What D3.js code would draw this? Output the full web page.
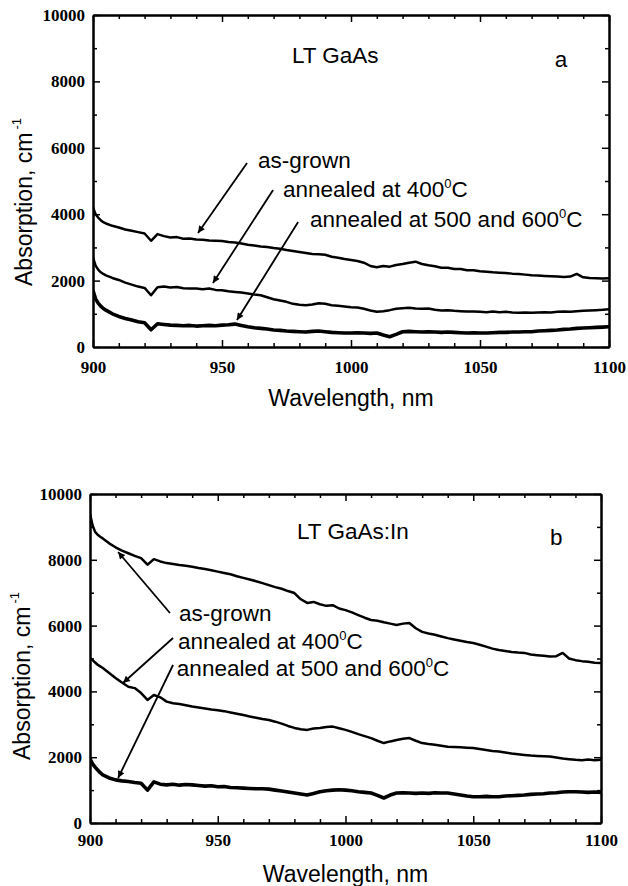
<!DOCTYPE html>
<html>
<head>
<meta charset="utf-8">
<script src="https://cdn.jsdelivr.net/npm/d3@7"></script>
<style>
  body { margin: 0; background: #fff; }
  svg { display: block; }
  .lbl { font-family: "Liberation Sans", Arial, sans-serif; font-size: 22.5px; fill: #000; }
  .ttl { font-family: "Liberation Sans", Arial, sans-serif; font-size: 23px; fill: #000; }
</style>
</head>
<body>
<div id="chart"></div>
<script>
// Sampled wavelengths (nm), shared by all curves
const wavelength = [900, 901, 902, 903, 904,
  905, 907.5, 910, 912.5, 915, 917.5, 920, 922.5, 925, 927.5,
  930, 932.5, 935, 937.5, 940, 942.5, 945, 947.5, 950, 952.5,
  955, 957.5, 960, 962.5, 965, 967.5, 970, 972.5, 975, 977.5,
  980, 982.5, 985, 987.5, 990, 992.5, 995, 997.5, 1000, 1002.5,
  1005, 1007.5, 1010, 1012.5, 1015, 1017.5, 1020, 1022.5, 1025, 1027.5,
  1030, 1032.5, 1035, 1037.5, 1040, 1042.5, 1045, 1047.5, 1050, 1052.5,
  1055, 1057.5, 1060, 1062.5, 1065, 1067.5, 1070, 1072.5, 1075, 1077.5,
  1080, 1082.5, 1085, 1087.5, 1090, 1092.5, 1095, 1097.5, 1100];

// Panel a: LT GaAs (absorption, cm^-1)
const gaAsGrown = [4200, 4000, 3900, 3820, 3760,
  3720, 3650, 3600, 3540, 3500, 3460, 3420, 3200, 3400, 3340,
  3300, 3310, 3260, 3270, 3240, 3230, 3210, 3200, 3190, 3160,
  3150, 3120, 3080, 3060, 3030, 3010, 2980, 2960, 2920, 2890,
  2860, 2830, 2800, 2790, 2780, 2720, 2690, 2650, 2620, 2590,
  2540, 2440, 2400, 2440, 2420, 2470, 2500, 2540, 2570, 2500,
  2460, 2430, 2390, 2390, 2350, 2350, 2310, 2310, 2280, 2270,
  2250, 2240, 2230, 2210, 2200, 2180, 2160, 2150, 2140, 2130,
  2120, 2110, 2120, 2200, 2100, 2080, 2070, 2060, 2070];
const gaAnn400 = [2700, 2450, 2330, 2250, 2200,
  2160, 2080, 2020, 1940, 1880, 1820, 1780, 1560, 1800, 1820,
  1790, 1810, 1770, 1760, 1760, 1740, 1760, 1720, 1710, 1680,
  1660, 1640, 1610, 1580, 1560, 1500, 1440, 1400, 1360, 1300,
  1270, 1260, 1280, 1320, 1300, 1260, 1240, 1220, 1200, 1190,
  1150, 1100, 1060, 1080, 1110, 1150, 1170, 1180, 1160, 1150,
  1160, 1120, 1100, 1110, 1090, 1080, 1070, 1070, 1060, 1050,
  1070, 1050, 1060, 1040, 1030, 1040, 1030, 1040, 1050, 1040,
  1060, 1070, 1060, 1080, 1090, 1100, 1110, 1120, 1140];
const gaAnn500600 = [1700, 1450, 1320, 1230, 1160,
  1110, 1000, 920, 860, 810, 760, 730, 520, 700, 680,
  660, 650, 640, 650, 630, 640, 650, 640, 660, 670,
  690, 650, 610, 580, 560, 540, 510, 500, 480, 470,
  460, 450, 470, 480, 460, 440, 430, 420, 420, 430,
  420, 410, 420, 360, 310, 380, 460, 470, 460, 450,
  460, 450, 440, 450, 440, 430, 420, 430, 420, 420,
  430, 440, 440, 450, 450, 460, 460, 480, 490, 500,
  510, 530, 540, 560, 570, 580, 590, 600, 610];

// Panel b: LT GaAs:In (absorption, cm^-1)
const inAsGrown = [9400, 9050, 8850, 8760, 8700,
  8650, 8500, 8380, 8280, 8200, 8120, 8050, 7850, 8020, 7950,
  7900, 7870, 7840, 7820, 7790, 7750, 7720, 7680, 7640, 7600,
  7560, 7500, 7450, 7400, 7350, 7290, 7230, 7170, 7120, 7050,
  6990, 6800, 6690, 6720, 6650, 6600, 6620, 6520, 6470, 6400,
  6320, 6240, 6170, 6150, 6100, 6060, 6020, 6060, 6080, 5920,
  5810, 5760, 5720, 5670, 5620, 5580, 5540, 5500, 5470, 5420,
  5360, 5300, 5260, 5230, 5200, 5180, 5170, 5120, 5100, 5080,
  5060, 5070, 5170, 5000, 4950, 4920, 4900, 4870, 4860];
const inAnn400 = [5020, 4950, 4880, 4810, 4760,
  4710, 4560, 4410, 4270, 4140, 4100, 3950, 3740, 3890, 3820,
  3690, 3640, 3620, 3580, 3540, 3510, 3480, 3450, 3430, 3400,
  3360, 3320, 3280, 3240, 3200, 3160, 3130, 3080, 3020, 2950,
  2890, 2850, 2830, 2870, 2890, 2920, 2930, 2880, 2830, 2770,
  2700, 2640, 2580, 2500, 2430, 2480, 2520, 2560, 2580, 2500,
  2430, 2400, 2380, 2350, 2320, 2310, 2300, 2290, 2280, 2250,
  2220, 2190, 2170, 2140, 2110, 2090, 2070, 2050, 2040, 2030,
  2020, 1990, 1960, 1940, 1920, 1910, 1930, 1910, 1920];
const inAnn500600 = [1950, 1800, 1700, 1610, 1530,
  1460, 1370, 1310, 1280, 1260, 1230, 1210, 1000, 1250, 1180,
  1160, 1180, 1150, 1170, 1160, 1140, 1120, 1130, 1100, 1110,
  1080, 1070, 1060, 1050, 1040, 1040, 1030, 1000, 970, 940,
  910, 880, 850, 900, 950, 980, 1000, 1010, 1000, 980,
  950, 930, 910, 840, 760, 850, 910, 920, 910, 900,
  910, 900, 920, 910, 910, 880, 850, 820, 800, 800,
  810, 800, 800, 820, 830, 840, 850, 870, 880, 890,
  910, 920, 940, 950, 950, 940, 930, 940, 930];

// Tick values
const xMajor = [900, 950, 1000, 1050, 1100];
const xMinor = [910, 920, 930, 940, 960, 970, 980, 990, 1010, 1020, 1030, 1040, 1060, 1070, 1080, 1090];
const yMajor = [0, 2000, 4000, 6000, 8000, 10000];
const yMinor = [1000, 3000, 5000, 7000, 9000];

// Annotation texts and arrows, in data units (wavelength, absorption)
const labelsA = [
  { text: "as-grown", w: 964, v: 5392 },
  { text: "annealed at 400", sup: "0", unit: "C", w: 973.6, v: 4518 },
  { text: "annealed at 500 and 600", sup: "0", unit: "C", w: 984.1, v: 3614 }
];
const arrowsA = [
  { w1: 959.7, v1: 5542, w2: 940.7, v2: 3434 },
  { w1: 969.8, v1: 4729, w2: 946.5, v2: 1928 },
  { w1: 979.5, v1: 3765, w2: 955.8, v2: 813 }
];
const labelsB = [
  { text: "as-grown", w: 934.8, v: 6140 },
  { text: "annealed at 400", sup: "0", unit: "C", w: 934.4, v: 5289 },
  { text: "annealed at 500 and 600", sup: "0", unit: "C", w: 934, v: 4468 }
];
const arrowsB = [
  { w1: 931.3, v1: 6383, w2: 911, v2: 8237 },
  { w1: 932.5, v1: 5623, w2: 912.9, v2: 4255 },
  { w1: 932.5, v1: 4802, w2: 911, v2: 1368 }
];

const width = 628, height = 886;

const svg = d3.select("#chart").append("svg")
  .attr("width", width)
  .attr("height", height);

svg.append("defs").append("marker")
  .attr("id", "head")
  .attr("viewBox", "0 0 10 10")
  .attr("refX", 10).attr("refY", 5)
  .attr("markerWidth", 11).attr("markerHeight", 7)
  .attr("markerUnits", "userSpaceOnUse")
  .attr("orient", "auto")
  .append("path")
  .attr("d", "M0,0 L10,5 L0,10 Z")
  .attr("fill", "#000");

function drawPanel(p) {
  const g = svg.append("g");

  const x = d3.scaleLinear().domain([900, 1100]).range([p.left, p.right]);
  const y = d3.scaleLinear().domain([0, 10000]).range([p.bottom, p.top]);

  g.append("clipPath").attr("id", "clip" + p.tag)
    .append("rect")
    .attr("x", p.left).attr("y", p.top)
    .attr("width", p.right - p.left).attr("height", p.bottom - p.top);

  // Curves
  const line = d3.line()
    .x((d, i) => x(wavelength[i]))
    .y(d => y(d));

  p.series.forEach(s => {
    g.append("path")
      .datum(s.values)
      .attr("clip-path", `url(#clip${p.tag})`)
      .attr("fill", "none")
      .attr("stroke", "#000")
      .attr("stroke-width", s.width)
      .attr("stroke-linejoin", "round")
      .attr("d", line);
  });

  // Axes: ticks point inward on all four sides
  const styleAxis = sel => {
    sel.select(".domain").attr("stroke-width", 2);
    sel.selectAll(".tick line").attr("stroke-width", 1.5);
    sel.selectAll(".tick text")
      .style("font-family", "'Liberation Serif', 'Times New Roman', serif")
      .style("font-weight", "bold")
      .style("font-size", "17px")
      .style("fill", "#000");
  };

  g.append("g")
    .attr("transform", `translate(0,${p.bottom})`)
    .call(d3.axisBottom(x).tickValues(xMinor).tickSize(-4).tickSizeOuter(0).tickFormat(""))
    .call(styleAxis);
  g.append("g")
    .attr("transform", `translate(0,${p.bottom})`)
    .call(d3.axisBottom(x).tickValues(xMajor).tickSize(-7).tickSizeOuter(0).tickPadding(p.xPad).tickFormat(d3.format("d")))
    .call(styleAxis);
  g.append("g")
    .attr("transform", `translate(0,${p.top})`)
    .call(d3.axisTop(x).tickValues(xMinor).tickSize(-4).tickSizeOuter(0).tickFormat(""))
    .call(styleAxis);
  g.append("g")
    .attr("transform", `translate(0,${p.top})`)
    .call(d3.axisTop(x).tickValues(xMajor).tickSize(-7).tickSizeOuter(0).tickFormat(""))
    .call(styleAxis);

  g.append("g")
    .attr("transform", `translate(${p.left},0)`)
    .call(d3.axisLeft(y).tickValues(yMinor).tickSize(-4).tickSizeOuter(0).tickFormat(""))
    .call(styleAxis);
  g.append("g")
    .attr("transform", `translate(${p.left},0)`)
    .call(d3.axisLeft(y).tickValues(yMajor).tickSize(-7).tickSizeOuter(0).tickPadding(8).tickFormat(d3.format("d")))
    .call(styleAxis);
  g.append("g")
    .attr("transform", `translate(${p.right},0)`)
    .call(d3.axisRight(y).tickValues(yMinor).tickSize(-4).tickSizeOuter(0).tickFormat(""))
    .call(styleAxis);
  g.append("g")
    .attr("transform", `translate(${p.right},0)`)
    .call(d3.axisRight(y).tickValues(yMajor).tickSize(-7).tickSizeOuter(0).tickFormat(""))
    .call(styleAxis);

  // Axis titles
  g.append("text")
    .attr("class", "ttl")
    .attr("x", (p.left + p.right) / 2)
    .attr("y", p.bottom + 59)
    .attr("text-anchor", "middle")
    .text("Wavelength, nm");

  const yt = g.append("text")
    .attr("class", "ttl")
    .attr("transform", `translate(${p.yTitleX},${p.yTitleY}) rotate(-90)`);
  yt.append("tspan").text("Absorption, cm");
  yt.append("tspan").attr("dy", -11).attr("dx", 3).style("font-size", "13px").text("-1");

  // Sample name and panel letter
  g.append("text").attr("class", "lbl")
    .attr("x", x(p.name.w)).attr("y", y(p.name.v))
    .text(p.name.text);
  g.append("text").attr("class", "lbl")
    .attr("x", x(p.letter.w)).attr("y", y(p.letter.v))
    .text(p.letter.text);

  // Annotation labels
  p.labels.forEach(l => {
    const t = g.append("text").attr("class", "lbl")
      .attr("x", x(l.w)).attr("y", y(l.v));
    t.append("tspan").text(l.text);
    if (l.sup) {
      t.append("tspan").attr("dy", -9).style("font-size", "13px").text(l.sup);
      t.append("tspan").attr("dy", 9).text(l.unit);
    }
  });

  // Arrows
  g.selectAll(".arrow")
    .data(p.arrows)
    .enter()
    .append("line")
    .attr("x1", d => x(d.w1)).attr("y1", d => y(d.v1))
    .attr("x2", d => x(d.w2)).attr("y2", d => y(d.v2))
    .attr("stroke", "#000")
    .attr("stroke-width", 1.8)
    .attr("marker-end", "url(#head)");
}

drawPanel({
  tag: "a", left: 93, right: 609, top: 15, bottom: 347, xPad: 14,
  yTitleX: 32, yTitleY: 286,
  series: [
    { values: gaAsGrown, width: 2.5 },
    { values: gaAnn400, width: 2.5 },
    { values: gaAnn500600, width: 3.6 }
  ],
  name: { text: "LT GaAs", w: 977.1, v: 8554 },
  letter: { text: "a", w: 1079, v: 8434 },
  labels: labelsA,
  arrows: arrowsA
});

drawPanel({
  tag: "b", left: 90, right: 601, top: 494, bottom: 823, xPad: 11,
  yTitleX: 30, yTitleY: 760,
  series: [
    { values: inAsGrown, width: 2.5 },
    { values: inAnn400, width: 2.5 },
    { values: inAnn500600, width: 3.6 }
  ],
  name: { text: "LT GaAs:In", w: 981, v: 8632 },
  letter: { text: "b", w: 1080, v: 8450 },
  labels: labelsB,
  arrows: arrowsB
});
</script>
</body>
</html>
